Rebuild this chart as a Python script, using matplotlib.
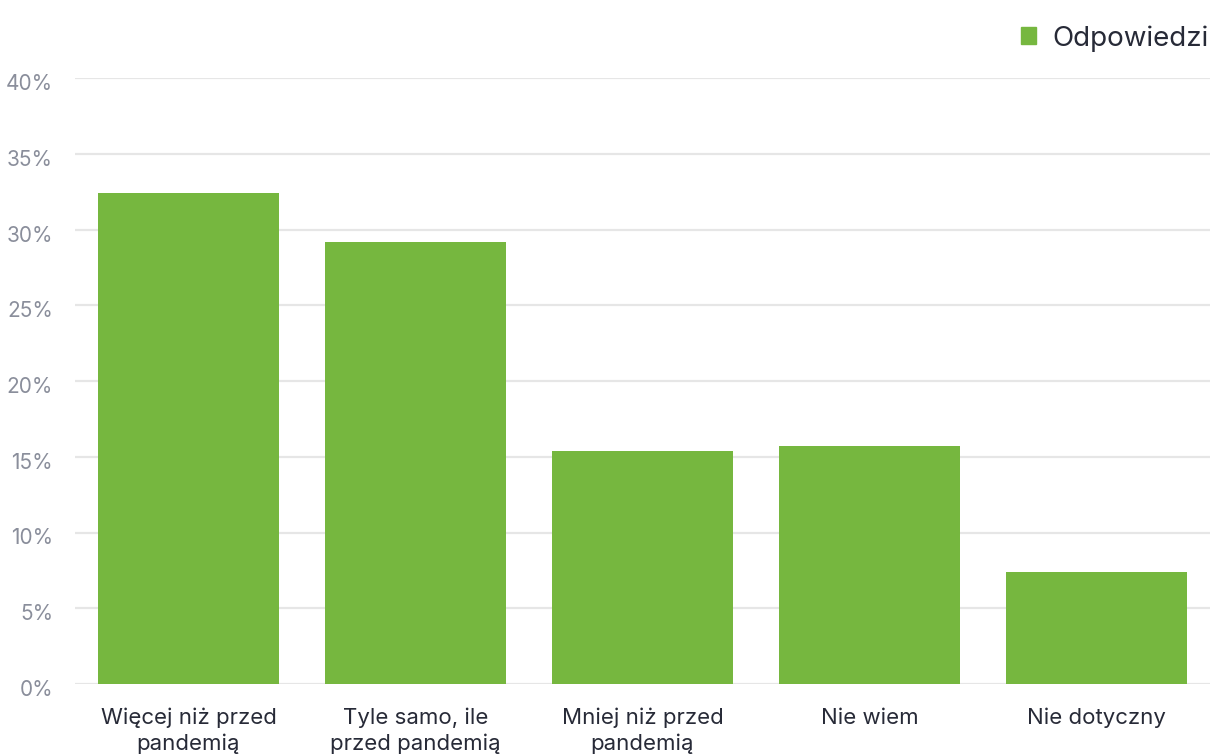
import matplotlib.pyplot as plt
import matplotlib.transforms as mtrans
from matplotlib.patches import Patch

plt.rcParams['font.family'] = ['Inter', 'DejaVu Sans']

# dane
kategorie = ['Więcej niż przed\npandemią', 'Tyle samo, ile\nprzed pandemią',
             'Mniej niż przed\npandemią', 'Nie wiem', 'Nie dotyczny']
wartosci = [32.4, 29.2, 15.4, 15.7, 7.4]
y_ticks = [0, 5, 10, 15, 20, 25, 30, 35, 40]

zielony = '#76b73f'
szary_tekst = '#8a8e9b'
ciemny_tekst = '#272a37'

fig = plt.figure(figsize=(12.11, 7.54), dpi=100)
ax = fig.add_axes([75 / 1211, 1 - 684 / 754, 1135 / 1211, 606 / 754])

ax.bar(range(len(kategorie)), wartosci, width=0.8, color=zielony, zorder=3)

ax.set_xlim(-0.5, len(kategorie) - 0.5)
ax.set_ylim(0, 40)
ax.set_yticks(y_ticks)
ax.set_yticklabels([])
ax.set_xticks(range(len(kategorie)))
ax.set_xticklabels(kategorie, fontsize=16, color=ciemny_tekst, linespacing=1.3)

ax.grid(axis='y', color='#e6e6e6', linewidth=1.6, zorder=0)
for s in ax.spines.values():
    s.set_visible(False)
ax.tick_params(axis='y', length=0)
ax.tick_params(axis='x', length=0, pad=17)

# etykiety osi Y lekko ponizej linii siatki
tr = ax.get_yaxis_transform() + mtrans.ScaledTranslation(-22 / 100, -6 / 100, fig.dpi_scale_trans)
for v in y_ticks:
    ax.text(0, v, '%d%%' % v, transform=tr, ha='right', va='center',
            fontsize=15, color=szary_tekst)

fig.legend(handles=[Patch(color=zielony, label='Odpowiedzi')],
           loc='upper right', bbox_to_anchor=(1.019, 1.0), frameon=False,
           fontsize=20, handlelength=0.55, handleheight=0.55,
           handletextpad=0.6, labelcolor=ciemny_tekst)

fig.savefig('out.png', dpi=100)
